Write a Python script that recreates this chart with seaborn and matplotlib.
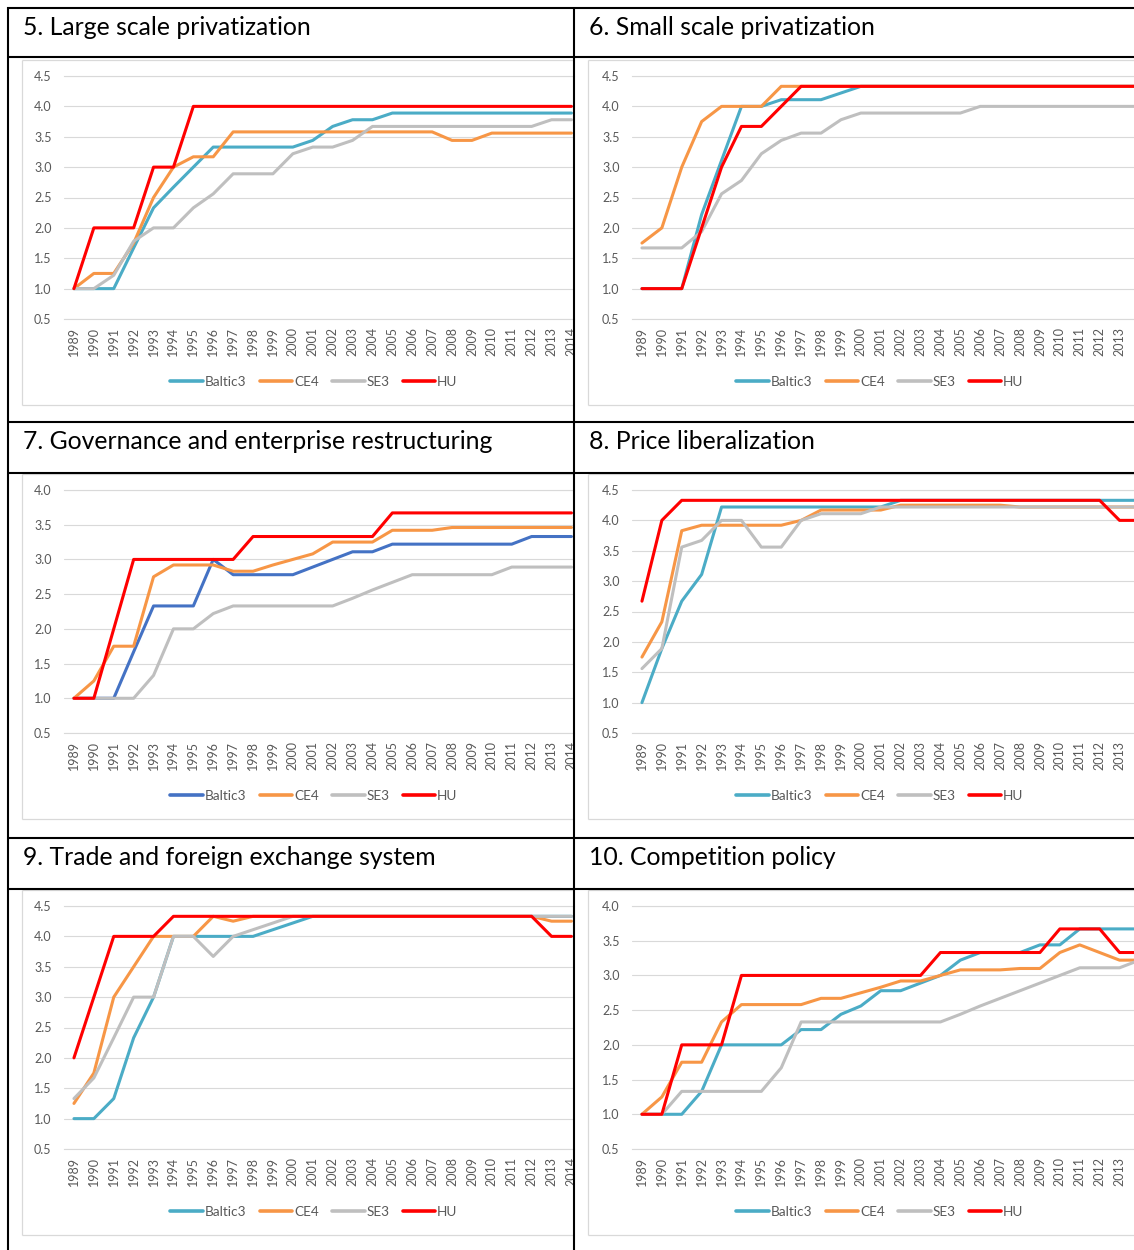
import pandas as pd
import matplotlib.pyplot as plt
import seaborn as sns
from matplotlib.lines import Line2D
from matplotlib.transforms import Bbox, TransformedBbox

sns.set_theme(style="white")
plt.rcParams['font.family'] = ['Lato', 'DejaVu Sans']

years = list(range(1989, 2015))
groups = ["Baltic3", "CE4", "SE3", "HU"]

# 5. Large scale privatization
large_baltic3 = [1.0, 1.0, 1.0, 1.67, 2.33, 2.67, 3.0, 3.33, 3.33, 3.33, 3.33, 3.33, 3.44,
                 3.67, 3.78, 3.78, 3.89, 3.89, 3.89, 3.89, 3.89, 3.89, 3.89, 3.89, 3.89, 3.89]
large_ce4 = [1.0, 1.25, 1.25, 1.75, 2.5, 3.0, 3.17, 3.17, 3.58, 3.58, 3.58, 3.58, 3.58,
             3.58, 3.58, 3.58, 3.58, 3.58, 3.58, 3.44, 3.44, 3.56, 3.56, 3.56, 3.56, 3.56]
large_se3 = [1.0, 1.0, 1.22, 1.78, 2.0, 2.0, 2.33, 2.56, 2.89, 2.89, 2.89, 3.22, 3.33,
             3.33, 3.44, 3.67, 3.67, 3.67, 3.67, 3.67, 3.67, 3.67, 3.67, 3.67, 3.78, 3.78]
large_hu = [1, 2, 2, 2, 3, 3, 4, 4, 4, 4, 4, 4, 4, 4, 4, 4, 4, 4, 4, 4, 4, 4, 4, 4, 4, 4]

# 6. Small scale privatization
small_baltic3 = [1.0, 1.0, 1.0, 2.22, 3.11, 4.0, 4.0, 4.11, 4.11, 4.11, 4.22, 4.33, 4.33,
                 4.33, 4.33, 4.33, 4.33, 4.33, 4.33, 4.33, 4.33, 4.33, 4.33, 4.33, 4.33, 4.33]
small_ce4 = [1.75, 2.0, 3.0, 3.75, 4.0, 4.0, 4.0, 4.33, 4.33, 4.33, 4.33, 4.33, 4.33,
             4.33, 4.33, 4.33, 4.33, 4.33, 4.33, 4.33, 4.33, 4.33, 4.33, 4.33, 4.33, 4.33]
small_se3 = [1.67, 1.67, 1.67, 1.94, 2.56, 2.78, 3.22, 3.44, 3.56, 3.56, 3.78, 3.89, 3.89,
             3.89, 3.89, 3.89, 3.89, 4.0, 4.0, 4.0, 4.0, 4.0, 4.0, 4.0, 4.0, 4.0]
small_hu = [1.0, 1.0, 1.0, 2.0, 3.0, 3.67, 3.67, 4.0, 4.33, 4.33, 4.33, 4.33, 4.33,
            4.33, 4.33, 4.33, 4.33, 4.33, 4.33, 4.33, 4.33, 4.33, 4.33, 4.33, 4.33, 4.33]

# 7. Governance and enterprise restructuring
gov_baltic3 = [1.0, 1.0, 1.0, 1.67, 2.33, 2.33, 2.33, 3.0, 2.78, 2.78, 2.78, 2.78, 2.89,
               3.0, 3.11, 3.11, 3.22, 3.22, 3.22, 3.22, 3.22, 3.22, 3.22, 3.33, 3.33, 3.33]
gov_ce4 = [1.0, 1.25, 1.75, 1.75, 2.75, 2.92, 2.92, 2.92, 2.83, 2.83, 2.92, 3.0, 3.08,
           3.25, 3.25, 3.25, 3.42, 3.42, 3.42, 3.46, 3.46, 3.46, 3.46, 3.46, 3.46, 3.46]
gov_se3 = [1.0, 1.0, 1.0, 1.0, 1.33, 2.0, 2.0, 2.22, 2.33, 2.33, 2.33, 2.33, 2.33,
           2.33, 2.44, 2.56, 2.67, 2.78, 2.78, 2.78, 2.78, 2.78, 2.89, 2.89, 2.89, 2.89]
gov_hu = [1.0, 1.0, 2.0, 3.0, 3.0, 3.0, 3.0, 3.0, 3.0, 3.33, 3.33, 3.33, 3.33,
          3.33, 3.33, 3.33, 3.67, 3.67, 3.67, 3.67, 3.67, 3.67, 3.67, 3.67, 3.67, 3.67]

# 8. Price liberalization
price_baltic3 = [1.0, 1.89, 2.67, 3.11, 4.22, 4.22, 4.22, 4.22, 4.22, 4.22, 4.22, 4.22, 4.22,
                 4.33, 4.33, 4.33, 4.33, 4.33, 4.33, 4.33, 4.33, 4.33, 4.33, 4.33, 4.33, 4.33]
price_ce4 = [1.75, 2.33, 3.83, 3.92, 3.92, 3.92, 3.92, 3.92, 4.0, 4.17, 4.17, 4.17, 4.17,
             4.25, 4.25, 4.25, 4.25, 4.25, 4.25, 4.22, 4.22, 4.22, 4.22, 4.22, 4.22, 4.22]
price_se3 = [1.56, 1.89, 3.56, 3.67, 4.0, 4.0, 3.56, 3.56, 4.0, 4.11, 4.11, 4.11, 4.22,
             4.22, 4.22, 4.22, 4.22, 4.22, 4.22, 4.22, 4.22, 4.22, 4.22, 4.22, 4.22, 4.22]
price_hu = [2.67, 4.0, 4.33, 4.33, 4.33, 4.33, 4.33, 4.33, 4.33, 4.33, 4.33, 4.33, 4.33,
            4.33, 4.33, 4.33, 4.33, 4.33, 4.33, 4.33, 4.33, 4.33, 4.33, 4.33, 4.0, 4.0]

# 9. Trade and foreign exchange system
trade_baltic3 = [1.0, 1.0, 1.33, 2.33, 3.0, 4.0, 4.0, 4.0, 4.0, 4.0, 4.11, 4.22, 4.33,
                 4.33, 4.33, 4.33, 4.33, 4.33, 4.33, 4.33, 4.33, 4.33, 4.33, 4.33, 4.33, 4.33]
trade_ce4 = [1.25, 1.75, 3.0, 3.5, 4.0, 4.0, 4.0, 4.33, 4.25, 4.33, 4.33, 4.33, 4.33,
             4.33, 4.33, 4.33, 4.33, 4.33, 4.33, 4.33, 4.33, 4.33, 4.33, 4.33, 4.25, 4.25]
trade_se3 = [1.33, 1.67, 2.33, 3.0, 3.0, 4.0, 4.0, 3.67, 4.0, 4.11, 4.22, 4.33, 4.33,
             4.33, 4.33, 4.33, 4.33, 4.33, 4.33, 4.33, 4.33, 4.33, 4.33, 4.33, 4.33, 4.33]
trade_hu = [2.0, 3.0, 4.0, 4.0, 4.0, 4.33, 4.33, 4.33, 4.33, 4.33, 4.33, 4.33, 4.33,
            4.33, 4.33, 4.33, 4.33, 4.33, 4.33, 4.33, 4.33, 4.33, 4.33, 4.33, 4.0, 4.0]

# 10. Competition policy
comp_baltic3 = [1.0, 1.0, 1.0, 1.33, 2.0, 2.0, 2.0, 2.0, 2.22, 2.22, 2.44, 2.56, 2.78,
                2.78, 2.89, 3.0, 3.22, 3.33, 3.33, 3.33, 3.44, 3.44, 3.67, 3.67, 3.67, 3.67]
comp_ce4 = [1.0, 1.25, 1.75, 1.75, 2.33, 2.58, 2.58, 2.58, 2.58, 2.67, 2.67, 2.75, 2.83,
            2.92, 2.92, 3.0, 3.08, 3.08, 3.08, 3.1, 3.1, 3.33, 3.44, 3.33, 3.22, 3.22]
comp_se3 = [1.0, 1.0, 1.33, 1.33, 1.33, 1.33, 1.33, 1.67, 2.33, 2.33, 2.33, 2.33, 2.33,
            2.33, 2.33, 2.33, 2.44, 2.56, 2.67, 2.78, 2.89, 3.0, 3.11, 3.11, 3.11, 3.22]
comp_hu = [1.0, 1.0, 2.0, 2.0, 2.0, 3.0, 3.0, 3.0, 3.0, 3.0, 3.0, 3.0, 3.0,
           3.0, 3.0, 3.33, 3.33, 3.33, 3.33, 3.33, 3.33, 3.67, 3.67, 3.67, 3.33, 3.33]

titles = ["5. Large scale privatization", "6. Small scale privatization",
          "7. Governance and enterprise restructuring", "8. Price liberalization",
          "9. Trade and foreign exchange system", "10. Competition policy"]
panel_series = [
    [large_baltic3, large_ce4, large_se3, large_hu],
    [small_baltic3, small_ce4, small_se3, small_hu],
    [gov_baltic3, gov_ce4, gov_se3, gov_hu],
    [price_baltic3, price_ce4, price_se3, price_hu],
    [trade_baltic3, trade_ce4, trade_se3, trade_hu],
    [comp_baltic3, comp_ce4, comp_se3, comp_hu],
]
panel_ymax = [4.5, 4.5, 4.0, 4.5, 4.5, 4.0]
baltic_colors = ["#4BACC6", "#4BACC6", "#4472C4", "#4BACC6", "#4BACC6", "#4BACC6"]

W, H = 1134, 1250
fig = plt.figure(figsize=(W / 100, H / 100), dpi=100)
fig.patch.set_facecolor("white")


def fx(x):
    return x / W


def fy(y):
    return 1 - y / H


def hline(y, x0, x1, color, lw):
    fig.add_artist(Line2D([fx(x0), fx(x1)], [fy(y), fy(y)], color=color, lw=lw,
                          solid_capstyle="butt", zorder=5))


def vline(x, y0, y1, color, lw):
    fig.add_artist(Line2D([fx(x), fx(x)], [fy(y0), fy(y1)], color=color, lw=lw,
                          solid_capstyle="butt", zorder=5))


# layout in pixels
title_top = [8, 422, 838]
frame_left = [22, 588]
plot_left = [64, 632]
clip_right = [574, 1134]
title_x = [23, 589]
legend_cx = [314, 880]
step = 19.9  # px per year

for i, title in enumerate(titles):
    r, c = divmod(i, 2)
    tt = title_top[r]
    ft = tt + 52           # chart frame top
    fb = ft + 345          # chart frame bottom
    top, bot = ft + 16, ft + 259
    pl, cr = plot_left[c], clip_right[c]
    ymax = panel_ymax[i]

    fig.text(fx(title_x[c]), fy(tt + 27), title, fontsize=17.8, color="black",
             ha="left", va="baseline")

    ax = fig.add_axes([fx(pl), fy(bot), fx(cr) - fx(pl), (bot - top) / H])
    df = pd.DataFrame({
        "year": years * 4,
        "value": sum(panel_series[i], []),
        "group": [g for g in groups for _ in years],
    })
    pal = {"Baltic3": baltic_colors[i], "CE4": "#F79646", "SE3": "#BFBFBF", "HU": "#FF0000"}
    sns.lineplot(data=df, x="year", y="value", hue="group", hue_order=groups,
                 palette=pal, linewidth=2.2, legend=False, ax=ax)

    xmax = 1988.5 + (cr - pl) / step
    ax.set_xlim(1988.5, xmax)
    ax.set_ylim(0.5, ymax)
    yt = [0.5 + 0.5 * k for k in range(int((ymax - 0.5) / 0.5) + 1)]
    ax.set_yticks(yt)
    ax.set_yticklabels([f"{v:.1f}" for v in yt])
    shown = [y for y in years if y <= xmax]
    ax.set_xticks(shown)
    ax.set_xticklabels([str(y) for y in shown])
    ax.set(xlabel="", ylabel="")
    ax.tick_params(axis="x", rotation=90, length=0, pad=6, labelsize=9, colors="#595959")
    ax.tick_params(axis="y", length=0, pad=9, labelsize=9, colors="#595959")
    ax.grid(axis="y", color="#D9D9D9", lw=0.8)
    ax.grid(axis="x", visible=False)
    for side in ["left", "right"]:
        ax.spines[side].set_visible(False)
    for side in ["top", "bottom"]:
        ax.spines[side].set_color("#D9D9D9")
        ax.spines[side].set_linewidth(0.8)
    ax.set_facecolor("none")

    # the chart is wider than its table cell: cut the last year label at the cell border
    clip = TransformedBbox(Bbox.from_extents(0, 0, fx(cr), 1), fig.transFigure)
    for lbl in ax.get_xticklabels():
        lbl.set_clip_box(clip)
        lbl.set_clip_on(True)

    handles = [Line2D([], [], color=pal[g], lw=2.6) for g in groups]
    ax.legend(handles, groups, loc="center", ncol=4, frameon=False, fontsize=9.8,
              labelcolor="#595959", handlelength=2.4, handletextpad=0.15,
              columnspacing=0.95, bbox_to_anchor=(fx(legend_cx[c]), fy(ft + 322)),
              bbox_transform=fig.transFigure)

    # chart frame (light grey)
    vline(frame_left[c], ft, fb, "#D9D9D9", 0.9)
    hline(ft, frame_left[c], cr, "#D9D9D9", 0.9)
    hline(fb, frame_left[c], cr, "#D9D9D9", 0.9)

# table borders
for y in [8, 57, 422, 473, 838, 889]:
    hline(y, 7, W, "black", 1.5)
vline(8, 7, H, "black", 1.5)
vline(574, 7, H, "black", 1.5)

fig.savefig("out.png", dpi=100, facecolor="white")
